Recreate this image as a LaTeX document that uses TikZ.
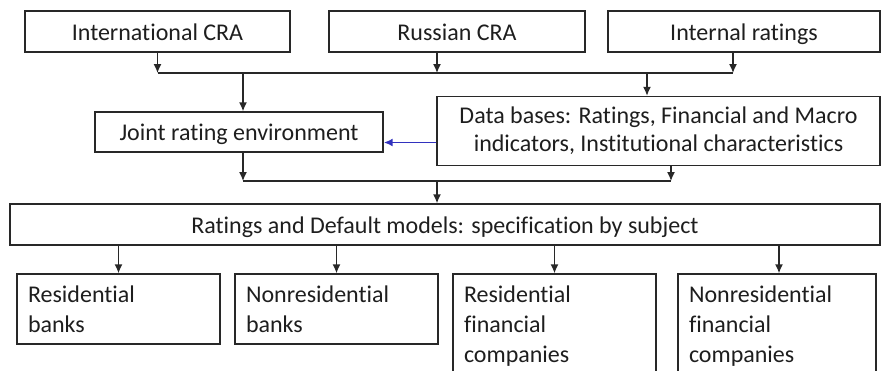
\documentclass[tikz,border=0pt]{standalone}
\usepackage{fontspec}
\setmainfont{Carlito}[RawFeature={-liga}]
\usetikzlibrary{arrows.meta}
\definecolor{lncol}{RGB}{40,40,40}
\definecolor{txtcol}{RGB}{30,30,30}
\definecolor{blucol}{RGB}{50,50,190}
\begin{document}
\begin{tikzpicture}[x=1pt,y=-1pt,
  box/.style={draw=lncol, line width=1.4pt, inner sep=0pt, text=txtcol,
    font=\fontsize{24}{30}\selectfont},
  oneline/.style={text height=21pt, text depth=4pt},
  arr/.style={draw=lncol, line width=1.4pt, -{Latex[length=9pt,width=8pt]}},
  conn/.style={draw=lncol, line width=1.4pt},
  barr/.style={draw=blucol, line width=1.8pt, -{Latex[length=9pt,width=8pt]}}]
\useasboundingbox (0,0) rectangle (881,370);
\clip (0,0) rectangle (881,370);
% top row
\node[box, oneline, minimum width=265pt, minimum height=41pt] (ica) at (157.5,31.5) {International CRA};
\node[box, oneline, minimum width=256pt, minimum height=41pt] (rca) at (457,31.5) {Russian CRA};
\node[box, oneline, minimum width=272pt, minimum height=41pt] (irt) at (744,31.5) {Internal ratings};
\coordinate (j1) at (0,73);
% middle
\node[box, oneline, minimum width=288pt, minimum height=40pt] (joint) at (239,132) {Joint rating environment};
\node[box, minimum width=443pt, minimum height=69pt, align=center, font=\fontsize{24}{28}\selectfont] (db) at (658.5,131)
  {Data bases: Ratings, Financial and Macro\\indicators, Institutional characteristics};
\coordinate (j2) at (0,181);
\node[box, oneline, minimum width=870pt, minimum height=41pt] (rdm) at (445,224.5)
  {Ratings and Default models: specification by subject};
% bottom
\node[box, minimum width=203pt, minimum height=70pt, text width=181pt, align=left] (rb) at (118.5,309) {Residential\\banks};
\node[box, minimum width=203pt, minimum height=70pt, text width=181pt, align=left] (nb) at (336.5,309) {Nonresidential\\banks};
\node[box, minimum width=203pt, minimum height=104pt, text width=181pt, align=left] (rf) at (554.5,326) {Residential\\financial\\companies};
\node[box, minimum width=198pt, minimum height=104pt, text width=176pt, align=left] (nf) at (777,326) {Nonresidential\\financial\\companies};
% connectors top
\draw[arr] (ica.south) -- (ica.south |- j1);
\draw[arr] ([xshift=-20pt]rca.south) -- ([xshift=-20pt]rca.south |- j1);
\draw[arr] ([xshift=-11pt]irt.south) -- ([xshift=-11pt]irt.south |- j1);
\draw[conn] (ica.south |- j1) -- ([xshift=-11pt]irt.south |- j1);
\draw[arr] ([xshift=4pt]joint.north |- j1) -- ([xshift=4pt]joint.north);
\draw[arr] ([xshift=-11.5pt]db.north |- j1) -- ([xshift=-11.5pt]db.north);
% blue
\draw[barr] ([yshift=-11.5pt]db.west) -- ([yshift=-11.5pt]db.west -| joint.east);
% middle connectors
\draw[arr] ([xshift=4pt]joint.south) -- ([xshift=4pt]joint.south |- j2);
\draw[arr] ([xshift=12.5pt]db.south) -- ([xshift=12.5pt]db.south |- j2);
\draw[conn] ([xshift=4pt]joint.south |- j2) -- ([xshift=12.5pt]db.south |- j2);
\draw[arr] ([xshift=-8pt]rdm.north |- j2) -- ([xshift=-8pt]rdm.north);
% bottom connectors
\draw[arr] (rdm.south -| rb.north) -- (rb.north);
\draw[arr] (rdm.south -| nb.north) -- (nb.north);
\draw[arr] (rdm.south -| rf.north) -- (rf.north);
\draw[arr] ([xshift=2pt]rdm.south -| nf.north) -- ([xshift=2pt]nf.north);
\end{tikzpicture}
\end{document}
